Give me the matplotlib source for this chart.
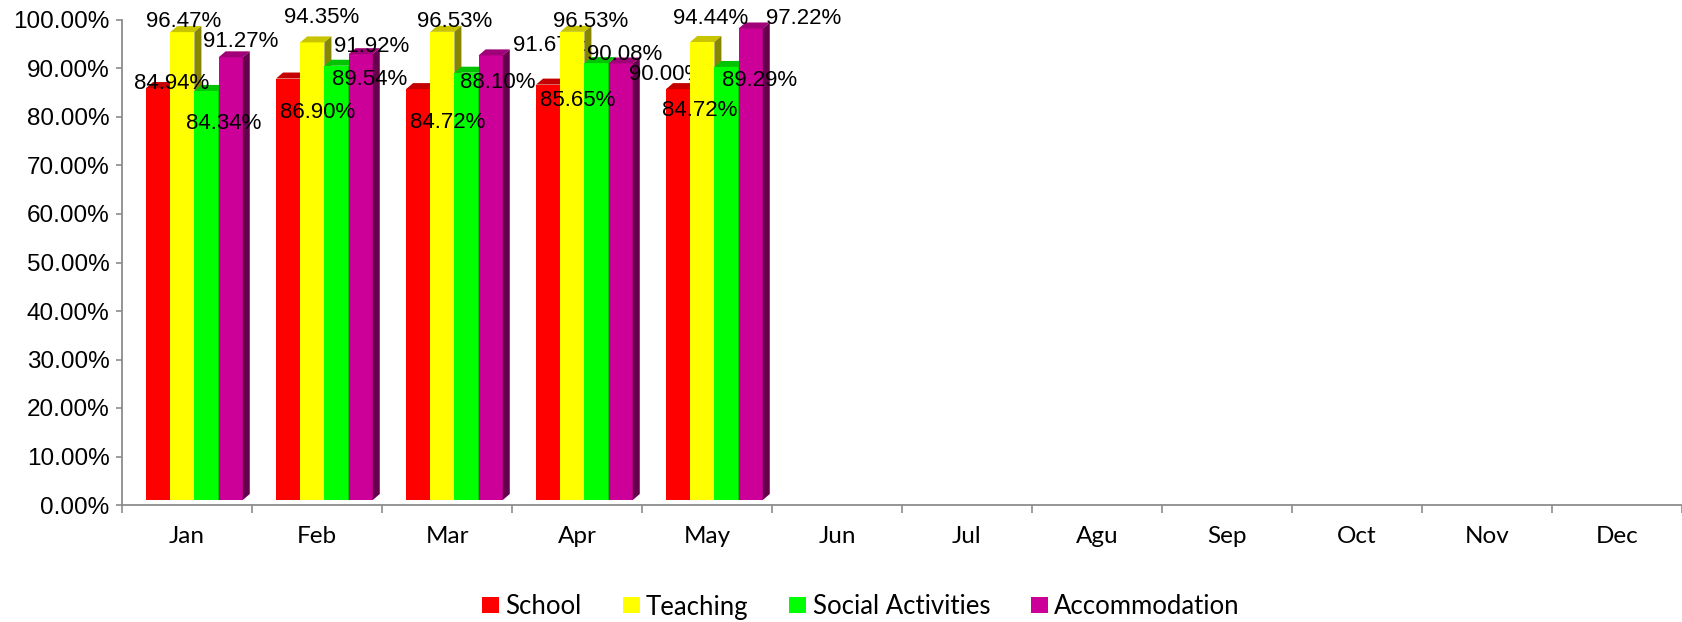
import matplotlib
matplotlib.use("Agg")
import matplotlib.pyplot as plt
import matplotlib.transforms as mtransforms
from matplotlib.patches import Polygon, Rectangle
from matplotlib.ticker import FixedLocator, FuncFormatter

months = ['Jan', 'Feb', 'Mar', 'Apr', 'May', 'Jun', 'Jul', 'Agu', 'Sep', 'Oct', 'Nov', 'Dec']
series_names = ['School', 'Teaching', 'Social Activities', 'Accommodation']
school = [84.94, 86.90, 84.72, 85.65, 84.72]
teaching = [96.47, 94.35, 96.53, 96.53, 94.44]
social = [84.34, 89.54, 88.10, 90.08, 89.29]
accommodation = [91.27, 91.92, 91.67, 90.00, 97.22]
series = [school, teaching, social, accommodation]

# styles
front_colors = ['#FF0000', '#FFFF00', '#00FF00', '#CC0099']
top_colors = ['#C40000', '#C8C400', '#00C400', '#A00078']
side_colors = ['#800000', '#868600', '#008000', '#66004C']
# label offsets in pixels (dx right, dy down) from front-top centre
label_offsets = [
    [(13, -7), (29, 31), (30, 31), (30, 13), (22, 19)],
    [(1, -13), (9, -27), (12, -13), (18, -13), (8, -26)],
    [(17, 30), (33, 11), (31, 7), (28, -11), (33, 11)],
    [(10, -18), (11, -10), (60, -12), (46, 9), (53, -12)],
]

W, H = 1682, 622
fig = plt.figure(figsize=(W / 100, H / 100), dpi=100)
ax = fig.add_axes([122 / W, 1 - 505 / H, (W - 122) / W, (505 - 20) / H])
ax.set_xlim(0, 12)
ax.set_ylim(0, 100)

gray = '#8c8c8c'
for s in ['top', 'right']:
    ax.spines[s].set_visible(False)
for s in ['left', 'bottom']:
    ax.spines[s].set_color(gray)
    ax.spines[s].set_linewidth(1.3)

ax.yaxis.set_major_locator(FixedLocator(list(range(0, 101, 10))))
ax.yaxis.set_major_formatter(FuncFormatter(lambda v, p: f'{v:.2f}%'))
ax.tick_params(axis='y', direction='out', length=4.5, width=1.2, color=gray,
               pad=4.5, labelsize=17.5)
for t in ax.get_yticklabels():
    t.set_fontfamily(['Liberation Sans', 'DejaVu Sans'])

ax.xaxis.set_major_locator(FixedLocator(list(range(0, 13))))
ax.xaxis.set_major_formatter(FuncFormatter(lambda v, p: ''))
ax.xaxis.set_minor_locator(FixedLocator([i + 0.5 for i in range(12)]))
ax.xaxis.set_minor_formatter(FuncFormatter(lambda v, p: months[int(v)] if int(v) < len(months) else ''))
ax.tick_params(axis='x', which='major', direction='out', length=5.5, width=1.2, color=gray)
ax.tick_params(axis='x', which='minor', length=0, pad=15, labelsize=17.5)
for t in ax.get_xticklabels(minor=True):
    t.set_fontfamily(['Lato', 'DejaVu Sans'])

# front-face transform: shifted up a few pixels (3D floor)
front_tr = mtransforms.offset_copy(ax.transData, fig=fig, x=0, y=5, units='dots')

# depth of 3D bars in data units
inv = ax.transData.inverted()
p0 = inv.transform(ax.transData.transform((0, 0)))
p1 = inv.transform(ax.transData.transform((0, 0)) + [7, 6])
ddx, ddy = p1[0] - p0[0], p1[1] - p0[1]

bar_w = 0.186
start = 0.185
for i in range(len(school)):
    base = 10 + 3 * i
    for k, vals in enumerate(series):
        v = vals[i]
        x0 = i + start + k * bar_w
        x1 = x0 + bar_w
        z = base + 0.1 * k
        ax.add_patch(Rectangle((x0, 0), bar_w, v, facecolor=front_colors[k],
                               edgecolor='none', transform=front_tr, zorder=z))
        ax.add_patch(Polygon([(x0, v), (x1, v), (x1 + ddx, v + ddy), (x0 + ddx, v + ddy)],
                             closed=True, facecolor=top_colors[k], edgecolor='none',
                             transform=front_tr, zorder=z + 0.01))
        ax.add_patch(Polygon([(x1, 0), (x1 + ddx, ddy), (x1 + ddx, v + ddy), (x1, v)],
                             closed=True, facecolor=side_colors[k], edgecolor='none',
                             transform=front_tr, zorder=z + 0.02))
    for k, vals in enumerate(series):
        v = vals[i]
        xc = i + start + (k + 0.5) * bar_w
        dx, dy = label_offsets[k][i]
        ax.annotate(f'{v:.2f}%', xy=(xc, v), xycoords=front_tr,
                    xytext=(dx * 0.72, -(dy + 8) * 0.72), textcoords='offset points',
                    ha='center', va='baseline', fontsize=16,
                    fontfamily=['Liberation Sans', 'DejaVu Sans'],
                    zorder=base + 1, annotation_clip=False)

handles = [Rectangle((0, 0), 1, 1, facecolor=c, edgecolor='none') for c in front_colors]
leg = fig.legend(handles, series_names, loc='center', bbox_to_anchor=(861 / W, 1 - 607 / H),
                 ncol=4, frameon=False, handlelength=0.66, handleheight=0.58,
                 handletextpad=0.24, columnspacing=1.6, borderpad=0, borderaxespad=0,
                 prop={'family': ['Lato', 'DejaVu Sans'], 'size': 18.5})

fig.savefig('out.png', dpi=100)
